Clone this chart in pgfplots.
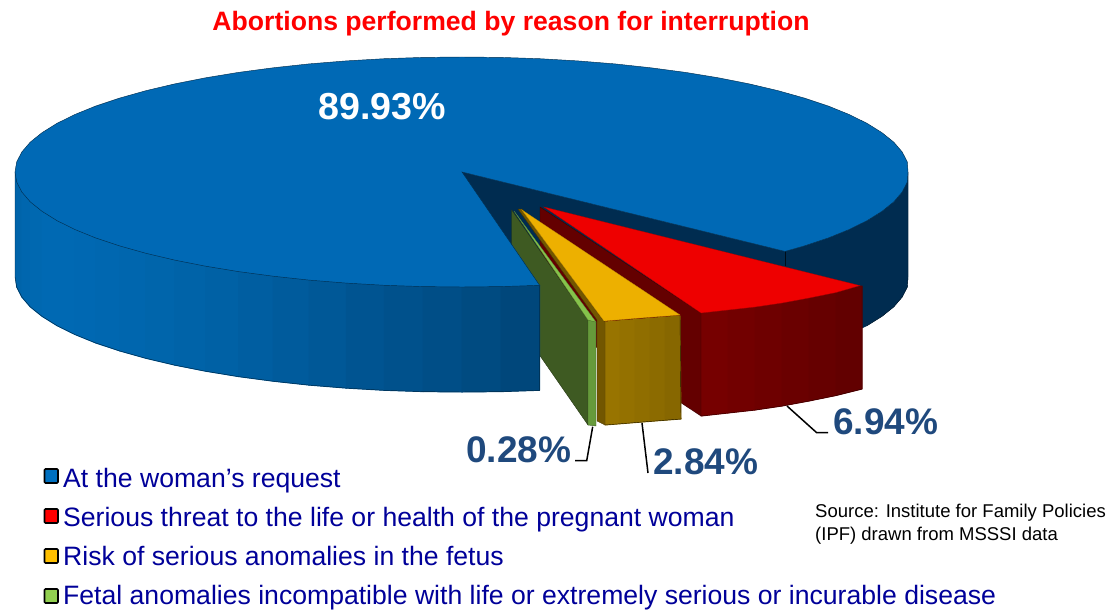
\documentclass[border=0pt]{standalone}
\usepackage{pgfplots}
\usepackage{fontspec}
\setmainfont{Liberation Sans}
\pgfplotsset{compat=1.18}
\definecolor{topblue}{HTML}{0069B5}
\definecolor{navy}{HTML}{002C50}
\definecolor{redtop}{HTML}{EE0000}
\definecolor{redwall}{HTML}{640000}
\definecolor{yeltop}{HTML}{EDB000}
\definecolor{yelwall}{HTML}{725600}
\definecolor{grntop}{HTML}{85C34B}
\definecolor{grnfront}{HTML}{669A3B}
\definecolor{grnwall}{HTML}{3E5A22}
\definecolor{labelblue}{HTML}{1F497D}
\definecolor{legtext}{HTML}{000099}
\definecolor{keyblue}{HTML}{0070C0}
\definecolor{keyyel}{HTML}{FFC000}
\definecolor{keygrn}{HTML}{92D050}
\newcommand\lbl[5]{\node[anchor=#1,text=#2,inner sep=0pt,font=\fontsize{#3}{#3}\selectfont] at (axis cs:#4) {#5};}
\newcommand\strip[4]{\addplot[fill={rgb,255:red,#1;green,#2;blue,#3},draw={rgb,255:red,#1;green,#2;blue,#3},line width=1pt,line join=round] coordinates {#4} --cycle;}
\begin{document}
\begin{tikzpicture}
\begin{axis}[scale only axis,width=1107pt,height=608pt,xmin=0,xmax=1107,ymin=0,ymax=608,y dir=reverse,hide axis,clip=false]
\addplot[draw=none,forget plot] coordinates {(0,0)(1107,608)};
% right wall of the large slice
\addplot[fill=navy,draw=navy,line width=.4pt] coordinates {(785,251.4)(804.4,245.9)(828.2,238)(849.1,229.5)(867.1,220.6)(882,211.3)(893.8,201.8)(902.2,192)(907.3,182)(908,172)(908,277)(907.3,287)(902.2,297)(893.8,306.8)(882,316.3)(867.1,325.6)(849.1,334.5)(828.2,343)(804.4,350.9)(785,356.4)} --cycle;
\addplot[fill=navy,draw=navy,line width=.4pt] coordinates {(462,172)(785,251.4)(785,356.4)(462,277)} --cycle;
\addplot[draw=black!70!navy,line width=.5pt] coordinates {(785,251.4)(785,266)};
\addplot[draw=black!50!navy,line width=.4pt] coordinates {(908,172)(908,277)(907.3,287)(902.2,297)(893.8,306.8)(882,316.3)(867.1,325.6)};
% red slice
\addplot[fill=redwall,draw=black!40!redwall,line width=.4pt] coordinates {(540,207)(701,313)(701,416)(540,310)} --cycle;
\strip{118}{0}{0}{(701,313)(728,310)(728,413)(701,416)}
\strip{114}{0}{0}{(728,310)(755,307)(755,410)(728,413)}
\strip{110}{0}{0}{(755,307)(782,303)(782,406)(755,410)}
\strip{106}{0}{0}{(782,303)(809,298)(809,401)(782,406)}
\strip{102}{0}{0}{(809,298)(836,292.5)(836,395.5)(809,401)}
\strip{98}{0}{0}{(836,292.5)(862,286)(862,389)(836,395.5)}
\addplot[draw=black!50!red!40!black,line width=.4pt] coordinates {(701,313)(701,416)(728,413)(755,410)(782,406)(809,401)(836,395.5)(862,389)(862,286)};
\addplot[fill=redtop,draw=redtop!70!black,line width=.3pt] coordinates {(544,207)(701,313)(728,310)(755,307)(782,303)(809,298)(836,292.5)(860,285.6)} --cycle;
% orange slice
\addplot[fill=yelwall,draw=black!40!yelwall,line width=.4pt] coordinates {(518,209)(522,209)(603,320)(605,322)(605,425)(597,421)(597,320)} --cycle;
\strip{152}{116}{0}{(605,322)(620,320.8)(620,423.8)(605,425)}
\strip{148}{113}{0}{(620,320.8)(635,319.6)(635,422.6)(620,423.8)}
\strip{144}{110}{0}{(635,319.6)(650,318.4)(650,421.4)(635,422.6)}
\strip{140}{107}{0}{(650,318.4)(665,317.2)(665,420.2)(650,421.4)}
\strip{135}{103}{0}{(665,317.2)(680,316)(681,419)(665,420.2)}
\addplot[draw=black!70!yelwall,line width=.4pt] coordinates {(605,322)(605,425)(620,423.8)(635,422.6)(650,421.4)(665,420.2)(681,419)(680,316)};
\addplot[fill=yeltop,draw=yeltop!80!black,line width=.3pt] coordinates {(522,210)(604,321)(640,318)(680,315)} --cycle;
% green slice
\addplot[fill=grnwall,draw=black!40!grnwall,line width=.4pt] coordinates {(511.7,210)(588,320)(588,425)(511.7,315)} --cycle;
\addplot[fill=grnfront,draw=black!40!grnfront,line width=.4pt] coordinates {(588,320)(596,322)(596,426)(588,425)} --cycle;
\addplot[fill=grntop,draw=black!30!grntop,line width=.3pt] coordinates {(514,211)(588,320)(596,322)} --cycle;
% side of the large slice, in strips from left to right
\strip{0}{98}{166}{(15.5,172)(16.7,182)(16.7,287)(15.5,277)}
\strip{0}{100}{170}{(16.7,182)(21.8,192)(21.8,297)(16.7,287)}
\strip{0}{102}{174}{(21.8,192)(30.2,201.8)(30.2,306.8)(21.8,297)}
\strip{0}{104}{176}{(30.2,201.8)(42,211.3)(42,316.3)(30.2,306.8)}
\strip{0}{105}{179}{(42,211.3)(56.9,220.6)(56.9,325.6)(42,316.3)}
\strip{0}{105}{179}{(56.9,220.6)(74.9,229.5)(74.9,334.5)(56.9,325.6)}
\strip{0}{104}{178}{(74.9,229.5)(95.8,238)(95.8,343)(74.9,334.5)}
\strip{0}{103}{176}{(95.8,238)(119.6,245.9)(119.6,350.9)(95.8,343)}
\strip{0}{102}{174}{(119.6,245.9)(145.9,253.3)(145.9,358.3)(119.6,350.9)}
\strip{0}{101}{171}{(145.9,253.3)(174.7,260.1)(174.7,365.1)(145.9,358.3)}
\strip{0}{99}{168}{(174.7,260.1)(205.6,266.2)(205.6,371.2)(174.7,365.1)}
\strip{0}{97}{165}{(205.6,266.2)(238.5,271.6)(238.5,376.6)(205.6,371.2)}
\strip{0}{94}{161}{(238.5,271.6)(273.1,276.2)(273.1,381.2)(238.5,376.6)}
\strip{0}{91}{156}{(273.1,276.2)(309.1,280.1)(309.1,385.1)(273.1,381.2)}
\strip{0}{88}{151}{(309.1,280.1)(346.3,283.1)(346.3,388.1)(309.1,385.1)}
\strip{0}{84}{145}{(346.3,283.1)(384.4,285.3)(384.4,390.3)(346.3,388.1)}
\strip{0}{81}{140}{(384.4,285.3)(423,286.6)(423,391.6)(384.4,390.3)}
\strip{0}{78}{135}{(423,286.6)(462,287)(462,392)(423,391.6)}
\strip{0}{75}{129}{(462,287)(501,286.6)(501,391.6)(462,392)}
\strip{0}{71}{123}{(501,286.6)(539.6,285.3)(539.6,390.3)(501,391.6)}
\addplot[draw=black!60!topblue,line width=.45pt] coordinates {(15,172)(15,277)(16.7,287)(21.8,297)(30.2,306.8)(42,316.3)(56.9,325.6)(74.9,334.5)(95.8,343)(119.6,350.9)(145.9,358.3)(174.7,365.1)(205.6,371.2)(238.5,376.6)(273.1,381.2)(309.1,385.1)(346.3,388.1)(384.4,390.3)(423,391.6)(462,392)(501,391.6)(539.6,390.3)(539.6,285.3)};
% top of the large slice
\addplot[fill=topblue,draw=black!55!topblue,line width=.45pt] coordinates {(462,172)(539.6,285.3)(501,286.6)(462,287)(423,286.6)(384.4,285.3)(346.3,283.1)(309.1,280.1)(273.1,276.2)(238.5,271.6)(205.6,266.2)(174.7,260.1)(145.9,253.3)(119.6,245.9)(95.8,238)(74.9,229.5)(56.9,220.6)(42,211.3)(30.2,201.8)(21.8,192)(16.7,182)(15,172)(16.7,162)(21.8,152)(30.2,142.2)(42,132.7)(56.9,123.4)(74.9,114.5)(95.8,106)(119.6,98.1)(145.9,90.7)(174.7,83.9)(205.6,77.8)(238.5,72.4)(273.1,67.8)(309.1,63.9)(346.3,60.9)(384.4,58.7)(423,57.4)(462,57)(501,57.4)(539.6,58.7)(577.7,60.9)(614.9,63.9)(650.9,67.8)(685.5,72.4)(718.4,77.8)(749.3,83.9)(778.1,90.7)(804.4,98.1)(828.2,106)(849.1,114.5)(867.1,123.4)(882,132.7)(893.8,142.2)(902.2,152)(907.3,162)(908,172)(907.3,182)(902.2,192)(893.8,201.8)(882,211.3)(867.1,220.6)(849.1,229.5)(828.2,238)(804.4,245.9)(785,251.4)} --cycle;
% leader lines
\addplot[black,line width=1.5pt] coordinates {(787,406)(816.7,432.7)(828,432.7)};
\addplot[black,line width=1.5pt] coordinates {(642,423)(648,473)};
\addplot[black,line width=1.5pt] coordinates {(592.7,426.7)(586.7,460.7)(575,460.7)};
% legend keys
\addplot[fill=keyblue,draw=black,line width=1.6pt,rounded corners=1pt] coordinates {(44.5,469)(58,469)(58,483)(44.5,483)} --cycle;
\addplot[fill=red,draw=black,line width=1.6pt,rounded corners=1pt] coordinates {(44.5,509)(58,509)(58,523)(44.5,523)} --cycle;
\addplot[fill=keyyel,draw=black,line width=1.6pt,rounded corners=1pt] coordinates {(44.5,549)(58,549)(58,563)(44.5,563)} --cycle;
\addplot[fill=keygrn,draw=black,line width=1.6pt,rounded corners=1pt] coordinates {(44.5,589)(58,589)(58,603)(44.5,603)} --cycle;
% texts
\lbl{base}{red}{26.6}{511,31}{\textbf{Abortions performed by reason for interruption}}
\lbl{base}{white}{37.6}{382,120}{\textbf{89.93\%}}
\lbl{base west}{labelblue}{37}{833,434}{\textbf{6.94\%}}
\lbl{base west}{labelblue}{37}{653,474}{\textbf{2.84\%}}
\lbl{base west}{labelblue}{37}{466,462}{\textbf{0.28\%}}
\lbl{base west}{legtext}{26.6}{63,487}{At the woman’s request}
\lbl{base west}{legtext}{26.6}{63,526}{Serious threat to the life or health of the pregnant woman}
\lbl{base west}{legtext}{26.6}{63,565}{Risk of serious anomalies in the fetus}
\lbl{base west}{legtext}{26.6}{63,604}{Fetal anomalies incompatible with life or extremely serious or incurable disease}
\lbl{base west}{black}{18.5}{815,517}{Source: Institute for Family Policies}
\lbl{base west}{black}{18.5}{815,540}{(IPF) drawn from MSSSI data}
\end{axis}
\end{tikzpicture}
\end{document}
